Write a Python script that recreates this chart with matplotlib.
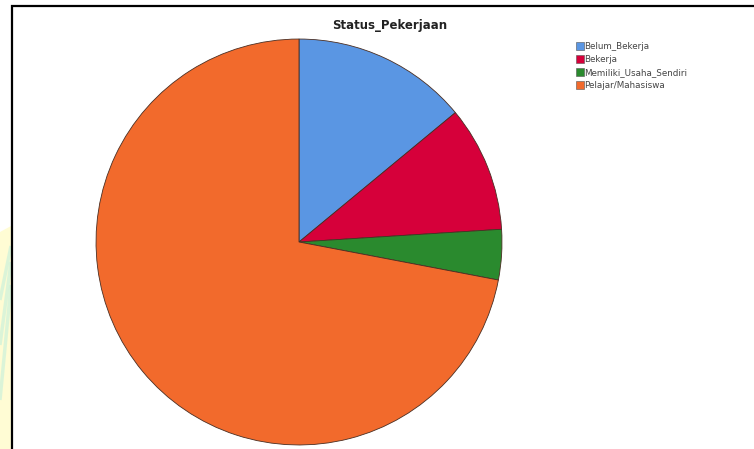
import matplotlib
matplotlib.use("Agg")
import matplotlib.pyplot as plt
from matplotlib.lines import Line2D
from matplotlib.patches import Polygon

# Status pekerjaan responden (persen)
labels = ["Belum_Bekerja", "Bekerja", "Memiliki_Usaha_Sendiri", "Pelajar/Mahasiswa"]
values = [14, 10, 4, 72]
colors = ["#5A96E3", "#D6003A", "#2A8A2E", "#F26A2C"]

W, H = 754, 449
fig = plt.figure(figsize=(W / 100, H / 100), dpi=100)
fig.patch.set_facecolor("white")

# strip of the page behind the output window (yellow with cyan swirls)
bg = fig.add_axes([0, 0, 1, 1], zorder=0)
bg.set_xlim(0, W)
bg.set_ylim(H, 0)
bg.axis("off")
bg.add_patch(Polygon([[0, 232], [11, 226], [11, H], [0, H]], closed=True,
                     facecolor="#FFFCD4", edgecolor="none"))
for y0, y1 in [(246, 300), (262, 345), (285, 400)]:
    bg.plot([11, 0], [y0, y1], color="#B9EEDD", lw=2.5, alpha=0.5,
            solid_capstyle="butt")
# window frame
bg.plot([11.5, 11.5, W], [H, 5.5, 5.5], color="black", lw=1.6,
        solid_joinstyle="miter")

# pie, centred at (299, 242) px with radius 205 px
cx, cy, r = 299, 242, 205
ax = fig.add_axes([(cx - r) / W, (H - cy - r) / H, 2 * r / W, 2 * r / H], zorder=1)
wedges, _ = ax.pie(values, colors=colors, startangle=90, counterclock=False,
                   radius=1, wedgeprops=dict(edgecolor="#4A2E22", linewidth=0.6))
ax.set_xlim(-1.01, 1.01)
ax.set_ylim(-1.01, 1.01)
ax.axis("off")

fig.text(390 / W, 1 - 26 / H, "Status_Pekerjaan", ha="center", va="center",
         fontsize=8.5, fontweight="bold", color="#222222")

handles = [Line2D([0], [0], marker="s", linestyle="none", markersize=6,
                  markerfacecolor=c, markeredgecolor="#555555", markeredgewidth=0.4)
           for c in colors]
fig.legend(handles, labels, loc="upper left", bbox_to_anchor=(576 / W, 1 - 42 / H),
           frameon=False, fontsize=6.3, labelcolor="#444444", handlelength=0.8,
           handletextpad=0.15, labelspacing=0.45, borderpad=0, borderaxespad=0)

fig.savefig("out.png", dpi=100)
